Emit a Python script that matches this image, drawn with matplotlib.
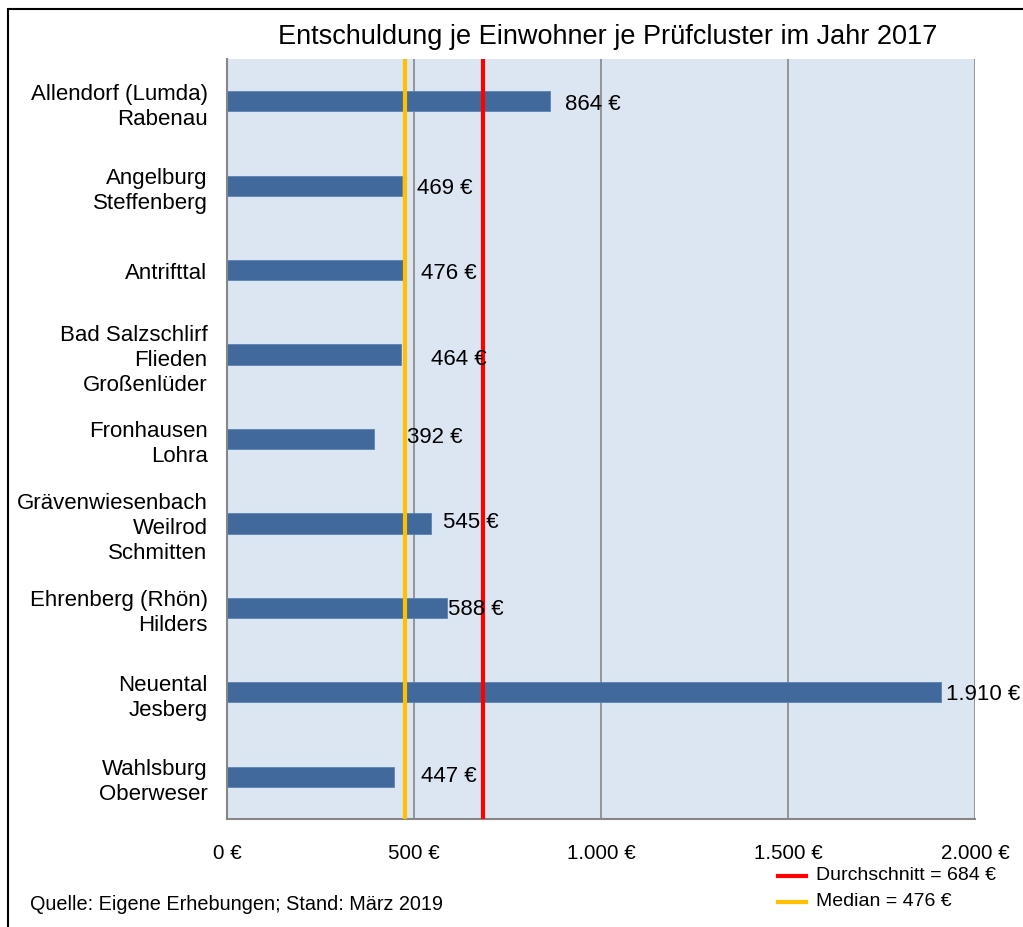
import numpy as np
import matplotlib.pyplot as plt
from matplotlib.patches import Rectangle
from matplotlib.lines import Line2D

plt.rcParams['font.family'] = ['Liberation Sans', 'DejaVu Sans']

# Prüfcluster und Entschuldung je Einwohner (Euro)
cluster = [
    "Allendorf (Lumda)\nRabenau",
    "Angelburg\nSteffenberg",
    "Antrifttal",
    "Bad Salzschlirf\nFlieden\nGroßenlüder",
    "Fronhausen\nLohra",
    "Grävenwiesenbach\nWeilrod\nSchmitten",
    "Ehrenberg (Rhön)\nHilders",
    "Neuental\nJesberg",
    "Wahlsburg\nOberweser",
]
entschuldung = [864, 469, 476, 464, 392, 545, 588, 1910, 447]
x_ticks = [0, 500, 1000, 1500, 2000]

# label offsets in pixels (dx, dy)
label_dx = [15, 15, 16, 30, 33, 12, 1, 5, 27]
label_dy = [-2, -2, -2, -4, 2, 2, -1, -1, 1]


def euro(v):
    return f"{v:,.0f} €".replace(",", ".")


werte = np.array(entschuldung)
mittel = werte.mean()
median = np.median(werte)

fig = plt.figure(figsize=(10.23, 9.28), dpi=100)
ax = fig.add_axes([227 / 1023, 1 - 820 / 928, (975 - 227) / 1023, (820 - 60) / 928])
ax.set_facecolor('#DCE6F2')

y = np.arange(len(cluster))
ax.barh(y, werte, height=0.24, color='#41699C', edgecolor='#5A82B4', linewidth=0.6, zorder=2)

for i, v in enumerate(werte):
    ax.annotate(euro(v), (v, y[i]), xytext=(label_dx[i], label_dy[i]),
                textcoords='offset pixels', ha='left', va='center', fontsize=16, zorder=5)

ax.axvline(median, color='#FFC000', lw=3, zorder=4)
ax.axvline(mittel, color='#FF0000', lw=3, zorder=4)

ax.set_xlim(0, 2000)
ax.set_ylim(len(cluster) - 0.5, -0.5)
ax.set_xticks(x_ticks)
ax.set_xticklabels([euro(t) for t in x_ticks])
ax.xaxis.grid(True, color='#868686', lw=1.2, zorder=1)
ax.set_axisbelow(True)
ax.set_yticks(y)
ax.set_yticklabels(cluster, linespacing=1.25)
ax.tick_params(axis='y', length=0, pad=14, labelsize=16)
ax.tick_params(axis='x', length=0, pad=17, labelsize=14.8)

for s in ['top', 'right']:
    ax.spines[s].set_visible(False)
ax.spines['left'].set_color('#868686')
ax.spines['bottom'].set_color('#868686')
ax.spines['left'].set_linewidth(1.5)
ax.spines['bottom'].set_linewidth(1.5)

fig.text(608 / 1023, 1 - 37 / 928, "Entschuldung je Einwohner je Prüfcluster im Jahr 2017",
         ha='center', va='center', fontsize=19.5)
fig.text(30 / 1023, 1 - 905 / 928, "Quelle: Eigene Erhebungen; Stand: März 2019",
         ha='left', va='center', fontsize=14.3)

# legend for the reference lines
for yy, col, txt in [(877, '#FF0000', f"Durchschnitt = {euro(mittel)}"),
                     (903, '#FFC000', f"Median = {euro(median)}")]:
    fig.add_artist(Line2D([778 / 1023, 806 / 1023], [1 - yy / 928] * 2, color=col, lw=3))
    fig.text(816 / 1023, 1 - (yy - 1) / 928, txt, ha='left', va='center', fontsize=14)

fig.add_artist(Rectangle((8 / 1023, -0.05), 1.1, 1 - 10 / 928 + 0.05,
                         transform=fig.transFigure, fill=False, ec='black', lw=1.5))

fig.savefig('out.png', dpi=100)
